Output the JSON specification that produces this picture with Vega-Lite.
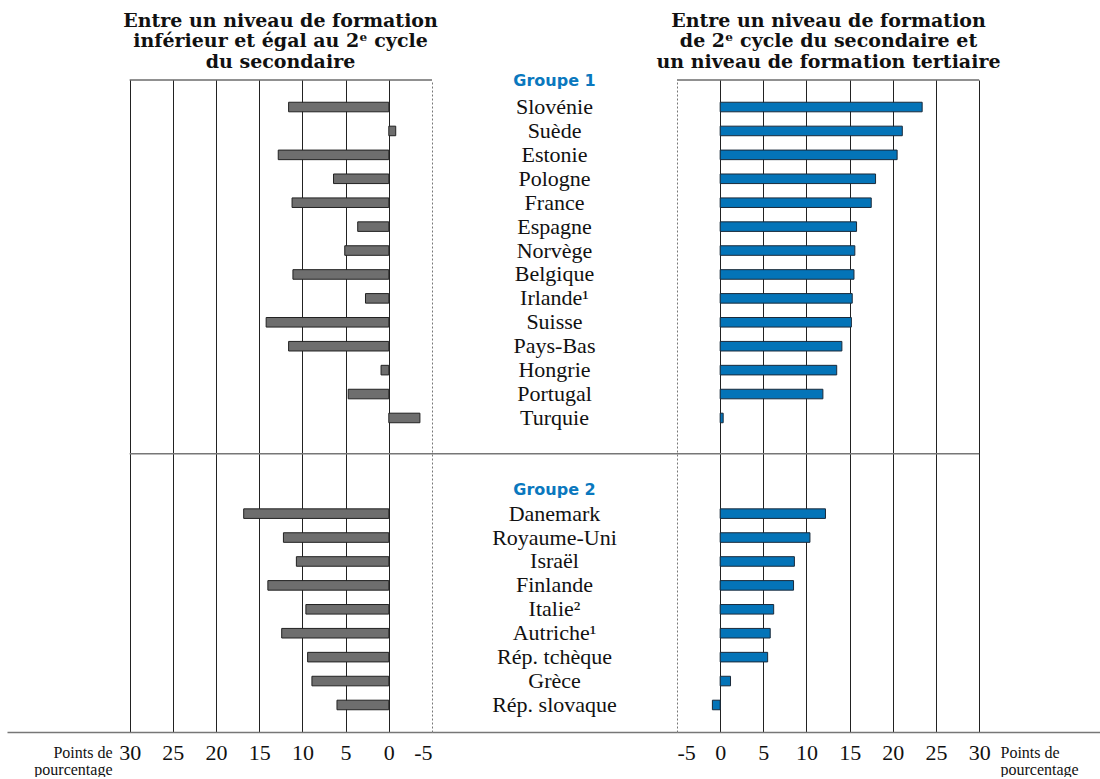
{
  "$schema": "https://vega.github.io/schema/vega-lite/v6.json",
  "padding": {"left": 7, "top": 11, "right": 0, "bottom": 0},
  "background": "white",
  "config": {"view": {"stroke": null}, "concat": {"spacing": 0}},
  "datasets": {
    "rows": [
      {"key": "Slovénie", "group": "Groupe 1", "low": 11.6, "high": 23.4},
      {"key": "Suède", "group": "Groupe 1", "low": -0.8, "high": 21.1},
      {"key": "Estonie", "group": "Groupe 1", "low": 12.8, "high": 20.5},
      {"key": "Pologne", "group": "Groupe 1", "low": 6.4, "high": 18.0},
      {"key": "France", "group": "Groupe 1", "low": 11.2, "high": 17.5},
      {"key": "Espagne", "group": "Groupe 1", "low": 3.6, "high": 15.8},
      {"key": "Norvège", "group": "Groupe 1", "low": 5.1, "high": 15.6},
      {"key": "Belgique", "group": "Groupe 1", "low": 11.1, "high": 15.5},
      {"key": "Irlande¹", "group": "Groupe 1", "low": 2.7, "high": 15.3},
      {"key": "Suisse", "group": "Groupe 1", "low": 14.2, "high": 15.2},
      {"key": "Pays-Bas", "group": "Groupe 1", "low": 11.6, "high": 14.1},
      {"key": "Hongrie", "group": "Groupe 1", "low": 0.9, "high": 13.5},
      {"key": "Portugal", "group": "Groupe 1", "low": 4.7, "high": 11.9},
      {"key": "Turquie", "group": "Groupe 1", "low": -3.6, "high": 0.35},
      {"key": "Danemark", "group": "Groupe 2", "low": 16.8, "high": 12.2},
      {"key": "Royaume-Uni", "group": "Groupe 2", "low": 12.2, "high": 10.4},
      {"key": "Israël", "group": "Groupe 2", "low": 10.7, "high": 8.6},
      {"key": "Finlande", "group": "Groupe 2", "low": 14.0, "high": 8.5},
      {"key": "Italie²", "group": "Groupe 2", "low": 9.6, "high": 6.2},
      {"key": "Autriche¹", "group": "Groupe 2", "low": 12.4, "high": 5.8},
      {"key": "Rép. tchèque", "group": "Groupe 2", "low": 9.4, "high": 5.5},
      {"key": "Grèce", "group": "Groupe 2", "low": 8.9, "high": 1.2},
      {"key": "Rép. slovaque", "group": "Groupe 2", "low": 6.0, "high": -0.9}
    ]
  },
  "data": {"name": "rows"},
  "bounds": "flush",
  "spacing": 0,
  "hconcat": [
    {
      "width": 425,
      "height": 652,
      "title": {
        "text": ["Entre un niveau de formation", "inférieur et égal au 2ᵉ cycle", "du secondaire"],
        "font": "DejaVu Serif", "fontSize": 19, "fontWeight": "bold", "color": "#111",
        "lineHeight": 20.5, "anchor": "middle", "frame": "group", "dx": 61, "offset": 8
      },
      "layer": [
        {
          "data": {"values": [{}]},
          "mark": {"type": "rule", "color": "#222", "strokeWidth": 1},
          "encoding": {
            "y": {"datum": "Slovénie", "type": "nominal", "bandPosition": -0.63,
              "scale": {"type": "band", "domain": ["Slovénie","Suède","Estonie","Pologne","France","Espagne","Norvège","Belgique","Irlande¹","Suisse","Pays-Bas","Hongrie","Portugal","Turquie","gap1","gap2","Groupe 2","Danemark","Royaume-Uni","Israël","Finlande","Italie²","Autriche¹","Rép. tchèque","Grèce","Rép. slovaque"], "paddingInner": 0, "paddingOuter": 0.63},
              "axis": null},
            "x": {"datum": 30, "type": "quantitative"},
            "x2": {"datum": -5}
          }
        },
        {
          "data": {"values": [{}]},
          "mark": {"type": "rule", "color": "#777", "strokeWidth": 1.5},
          "encoding": {
            "y": {"datum": "gap2", "type": "nominal", "bandPosition": 0},
            "x": {"datum": 30, "type": "quantitative"},
            "x2": {"datum": -5}
          }
        },
        {
          "mark": {"type": "bar", "fill": "#6e6e6e", "stroke": "#222", "strokeWidth": 1, "height": {"band": 0.4}},
          "encoding": {
            "y": {"field": "key", "type": "nominal"},
            "x": {
              "field": "low", "type": "quantitative",
              "scale": {"domain": [-5, 44.2], "nice": false, "reverse": true},
              "axis": {
                "values": [30, 25, 20, 15, 10, 5, 0, -5],
                "labelExpr": "replace(datum.label, '−', '-')",
                "grid": true,
                "gridColor": {"condition": {"test": "datum.value === -5", "value": "#777"}, "value": "#222"},
                "gridDash": {"condition": {"test": "datum.value === -5", "value": [2, 2]}, "value": []},
                "gridWidth": 1,
                "ticks": false,
                "domainColor": "#777", "domainWidth": 1.5,
                "labelFont": "Liberation Serif", "labelFontSize": 22, "labelColor": "#111", "labelPadding": 10,
                "title": ["Points de", "pourcentage"],
                "titleFont": "Liberation Serif", "titleFontSize": 16, "titleFontWeight": "normal", "titleColor": "#111",
                "titleAlign": "right", "titleBaseline": "top", "titleLineHeight": 17,
                "titleX": 105, "titleY": 12, "titleAngle": 0
              }
            }
          }
        }
      ]
    },
    {
      "width": 245,
      "height": 652,
      "layer": [
        {
          "data": {"values": [{}]},
          "mark": {"type": "rule", "color": "#777", "strokeWidth": 1.5},
          "encoding": {
            "y": {"datum": "gap2", "type": "nominal", "bandPosition": 0,
              "scale": {"type": "band", "domain": ["Slovénie","Suède","Estonie","Pologne","France","Espagne","Norvège","Belgique","Irlande¹","Suisse","Pays-Bas","Hongrie","Portugal","Turquie","gap1","gap2","Groupe 2","Danemark","Royaume-Uni","Israël","Finlande","Italie²","Autriche¹","Rép. tchèque","Grèce","Rép. slovaque"], "paddingInner": 0, "paddingOuter": 0.63},
              "axis": null},
            "x": {"datum": 0, "type": "quantitative", "scale": {"domain": [0, 1], "nice": false},
              "axis": {"domain": true, "domainColor": "#777", "domainWidth": 1.5, "ticks": false, "labels": false, "grid": false, "title": null}},
            "x2": {"datum": 1}
          }
        },
        {
          "mark": {"type": "text", "font": "Liberation Serif", "fontSize": 22, "color": "#111"},
          "encoding": {
            "y": {"field": "key", "type": "nominal"},
            "text": {"field": "key"}
          }
        },
        {
          "data": {"values": [{"g": "Groupe 2"}]},
          "mark": {"type": "text", "font": "DejaVu Sans", "fontWeight": "bold", "fontSize": 16, "color": "#0a78be"},
          "encoding": {
            "y": {"field": "g", "type": "nominal"},
            "text": {"field": "g"}
          }
        },
        {
          "data": {"values": [{"g": "Groupe 1"}]},
          "mark": {"type": "text", "font": "DejaVu Sans", "fontWeight": "bold", "fontSize": 16, "color": "#0a78be"},
          "encoding": {
            "y": {"datum": "Slovénie", "type": "nominal", "bandPosition": -0.57},
            "text": {"field": "g"}
          }
        }
      ]
    },
    {
      "width": 423,
      "height": 652,
      "title": {
        "text": ["Entre un niveau de formation", "de 2ᵉ cycle du secondaire et", "un niveau de formation tertiaire"],
        "font": "DejaVu Serif", "fontSize": 19, "fontWeight": "bold", "color": "#111",
        "lineHeight": 20.5, "anchor": "middle", "frame": "group", "dx": -60, "offset": 8
      },
      "layer": [
        {
          "data": {"values": [{}]},
          "mark": {"type": "rule", "color": "#222", "strokeWidth": 1},
          "encoding": {
            "y": {"datum": "Slovénie", "type": "nominal", "bandPosition": -0.63,
              "scale": {"type": "band", "domain": ["Slovénie","Suède","Estonie","Pologne","France","Espagne","Norvège","Belgique","Irlande¹","Suisse","Pays-Bas","Hongrie","Portugal","Turquie","gap1","gap2","Groupe 2","Danemark","Royaume-Uni","Israël","Finlande","Italie²","Autriche¹","Rép. tchèque","Grèce","Rép. slovaque"], "paddingInner": 0, "paddingOuter": 0.63},
              "axis": null},
            "x": {"datum": -5, "type": "quantitative"},
            "x2": {"datum": 30}
          }
        },
        {
          "data": {"values": [{}]},
          "mark": {"type": "rule", "color": "#777", "strokeWidth": 1.5},
          "encoding": {
            "y": {"datum": "gap2", "type": "nominal", "bandPosition": 0},
            "x": {"datum": -5, "type": "quantitative"},
            "x2": {"datum": 30}
          }
        },
        {
          "mark": {"type": "bar", "fill": "#0474b8", "stroke": "#1a2a3a", "strokeWidth": 1, "height": {"band": 0.4}},
          "encoding": {
            "y": {"field": "key", "type": "nominal"},
            "x": {
              "field": "high", "type": "quantitative",
              "scale": {"domain": [-5, 44], "nice": false},
              "axis": {
                "values": [-5, 0, 5, 10, 15, 20, 25, 30],
                "labelExpr": "replace(datum.label, '−', '-')",
                "grid": true,
                "gridColor": {"condition": {"test": "datum.value === -5", "value": "#777"}, "value": "#222"},
                "gridDash": {"condition": {"test": "datum.value === -5", "value": [2, 2]}, "value": []},
                "gridWidth": 1,
                "ticks": false,
                "domainColor": "#777", "domainWidth": 1.5,
                "labelFont": "Liberation Serif", "labelFontSize": 22, "labelColor": "#111", "labelPadding": 10,
                "title": ["Points de", "pourcentage"],
                "titleFont": "Liberation Serif", "titleFontSize": 16, "titleFontWeight": "normal", "titleColor": "#111",
                "titleAlign": "left", "titleBaseline": "top", "titleLineHeight": 17,
                "titleX": 323, "titleY": 12, "titleAngle": 0
              }
            }
          }
        }
      ]
    }
  ]
}
